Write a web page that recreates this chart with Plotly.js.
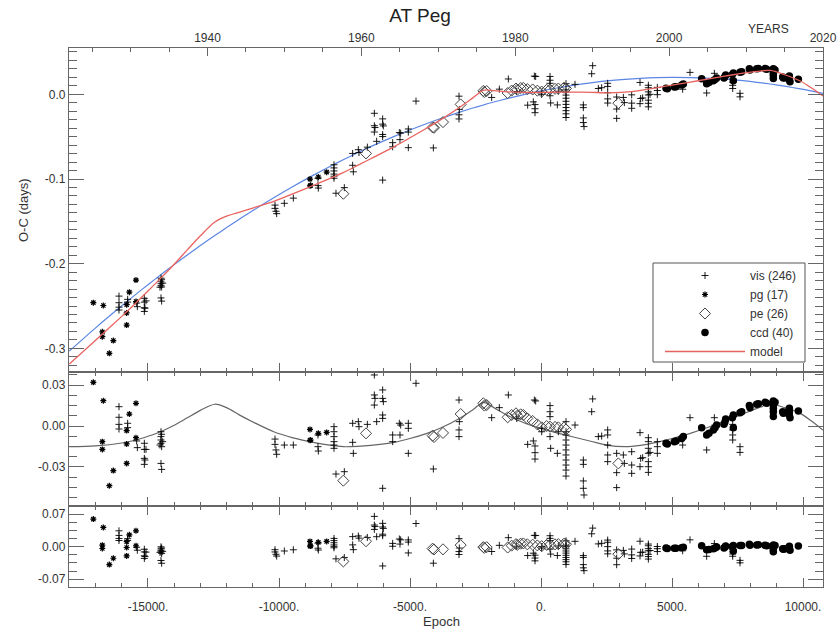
<!DOCTYPE html>
<html><head><meta charset="utf-8">
<script src="https://cdn.plot.ly/plotly-3.0.1.min.js"></script>
<style>html,body{margin:0;padding:0;background:#fff;}#chart{width:838px;height:632px;}</style>
</head><body><div id="chart"></div>
<script>
// ---------- data ----------
// visual timings: epoch, O-C (days), residual vs quadratic, residual vs full model
const visE = [-16107,-16107,-16107,-16107,-15776,-15776,-15433,-15407,-15140,-15140,-15076,-15140,-15115,-15140,-14504,-14479,-14504,-14504,-14542,-14479,-14504,-14479,-14440,-14504,
 -10153,-10153,-10115,-10089,-9796,-9453,
 -8512,-8512,-8499,-7901,-7901,-7901,-7901,-7901,-7901,-7825,-7507,-7188,-7188,-7163,-6972,-6947,-6628,-6361,-6361,-6336,-6361,-6272,-6043,-6043,-6018,-6043,-6043,-6043,-5662,-5662,-5407,-5382,-5356,-5064,-5064,-5064,-4771,-4109,-3130,-3130,-3130,-3117,
 -1883,-1590,-1247,-929,-509,-293,-229,-229,-229,-254,-204,26,26,344,344,344,344,369,624,662,
 954,954,954,954,954,954,954,954,954,954,954,
 1298,1616,1616,1616,1616,1641,1934,1972,2188,2316,2545,2545,2545,2545,2545,2888,2888,2888,3143,3181,3461,3461,3461,3779,3804,3779,3880,
 4097,4097,4097,4097,4097,4097,4097,4160,4440,4440,4440,5687,6323,6616,6641,7316,7316,7316,7316,7595,7595,5407];
const visOC = [-0.2383,-0.2461,-0.2513,-0.2547,-0.2421,-0.2453,-0.2465,-0.2508,-0.2409,-0.2454,-0.2439,-0.2520,-0.2526,-0.2564,-0.2171,-0.2184,-0.2207,-0.2232,-0.2278,-0.2275,-0.2404,-0.2442,-0.2229,-0.2256,
 -0.1308,-0.1347,-0.1381,-0.1409,-0.1287,-0.1226,
 -0.0992,-0.1078,-0.1107,-0.0832,-0.0869,-0.0905,-0.0942,-0.0967,-0.0991,-0.1168,-0.1102,-0.0698,-0.0838,-0.0915,-0.0654,-0.0687,-0.0624,-0.0224,-0.0371,-0.0392,-0.0445,-0.0555,-0.0290,-0.0352,-0.0373,-0.0474,-0.0499,-0.1013,-0.0571,-0.0620,-0.0452,-0.0535,-0.0458,-0.0409,-0.0446,-0.0630,-0.0080,-0.0633,-0.0022,-0.0291,-0.0242,-0.0180,
 -0.0037,0.0061,0.0181,0.0033,-0.0128,-0.0089,-0.0121,-0.0170,-0.0217,0.0215,0.0211,0.0025,0.0000,0.0211,0.0166,0.0130,-0.0017,-0.0102,-0.0125,0.0036,
 0.0126,0.0052,0.0028,-0.0009,-0.0046,-0.0082,-0.0119,-0.0156,-0.0193,-0.0230,-0.0274,
 0.0118,-0.0125,-0.0157,-0.0279,-0.0333,-0.0381,0.0243,0.0338,0.0069,0.0078,0.0130,0.0093,0.0019,-0.0054,-0.0103,-0.0032,-0.0174,-0.0284,-0.0037,-0.0098,-0.0006,-0.0104,-0.0165,0.0140,-0.0049,-0.0110,-0.0043,
 0.0107,0.0078,0.0029,-0.0008,-0.0069,-0.0106,-0.0148,0.0000,0.0082,0.0045,-0.0004,0.0259,0.0016,0.0248,0.0194,0.0184,0.0143,0.0106,0.0069,0.0012,-0.0030,0.0060];
const visRes1 = [0.0142,0.0064,0.0012,-0.0022,0.0020,-0.0012,-0.0110,-0.0159,-0.0127,-0.0172,-0.0172,-0.0238,-0.0250,-0.0282,-0.0042,-0.0061,-0.0078,-0.0103,-0.0140,-0.0152,-0.0275,-0.0319,-0.0115,-0.0127,
 -0.0096,-0.0135,-0.0176,-0.0208,-0.0140,-0.0140,
 -0.0066,-0.0152,-0.0184,-0.0005,-0.0042,-0.0078,-0.0115,-0.0140,-0.0164,-0.0353,-0.0336,0.0020,-0.0120,-0.0201,0.0032,-0.0005,0.0012,0.0375,0.0228,0.0203,0.0154,0.0032,0.0265,0.0203,0.0179,0.0081,0.0056,-0.0458,-0.0066,-0.0115,0.0020,-0.0066,0.0007,0.0020,-0.0017,-0.0201,0.0314,-0.0316,0.0191,-0.0078,-0.0029,0.0032,
 0.0061,0.0135,0.0228,0.0056,-0.0135,-0.0110,-0.0147,-0.0196,-0.0243,0.0191,0.0184,-0.0017,-0.0042,0.0150,0.0105,0.0069,-0.0078,-0.0164,-0.0201,-0.0042,
 0.0032,-0.0042,-0.0066,-0.0103,-0.0140,-0.0176,-0.0213,-0.0250,-0.0287,-0.0324,-0.0368,
 0.0007,-0.0250,-0.0282,-0.0404,-0.0458,-0.0507,0.0105,0.0199,-0.0078,-0.0074,-0.0029,-0.0066,-0.0140,-0.0213,-0.0262,-0.0201,-0.0343,-0.0453,-0.0213,-0.0275,-0.0189,-0.0287,-0.0348,-0.0049,-0.0238,-0.0299,-0.0233,
 -0.0086,-0.0115,-0.0164,-0.0201,-0.0262,-0.0299,-0.0341,-0.0194,-0.0115,-0.0152,-0.0201,0.0061,-0.0176,0.0061,0.0007,0.0012,-0.0029,-0.0066,-0.0103,-0.0152,-0.0194,-0.0140];
const visRes2 = [0.0342,0.0243,0.0177,0.0133,0.0173,0.0132,-0.0011,-0.0076,-0.0056,-0.0113,-0.0117,-0.0197,-0.0213,-0.0253,-0.0003,-0.0029,-0.0048,-0.0080,-0.0123,-0.0145,-0.0298,-0.0357,-0.0100,-0.0110,
 -0.0065,-0.0114,-0.0164,-0.0202,-0.0093,-0.0067,
 0.0076,-0.0033,-0.0072,0.0178,0.0131,0.0085,0.0038,0.0006,-0.0024,-0.0262,-0.0234,0.0217,0.0039,-0.0064,0.0231,0.0184,0.0199,0.0653,0.0466,0.0434,0.0372,0.0215,0.0503,0.0424,0.0394,0.0269,0.0237,-0.0415,0.0071,0.0009,0.0166,0.0056,0.0147,0.0146,0.0099,-0.0135,0.0499,-0.0356,0.0174,-0.0168,-0.0105,-0.0029,
 -0.0104,0.0029,0.0194,0.0010,-0.0191,-0.0141,-0.0183,-0.0245,-0.0305,0.0244,0.0240,0.0003,-0.0029,0.0236,0.0179,0.0133,-0.0053,-0.0160,-0.0191,0.0014,
 0.0126,0.0032,0.0001,-0.0046,-0.0093,-0.0138,-0.0185,-0.0232,-0.0279,-0.0326,-0.0382,
 0.0116,-0.0192,-0.0232,-0.0387,-0.0456,-0.0517,0.0278,0.0400,0.0060,0.0072,0.0142,0.0095,0.0001,-0.0091,-0.0154,-0.0069,-0.0249,-0.0389,-0.0079,-0.0156,-0.0052,-0.0177,-0.0254,0.0118,-0.0122,-0.0199,-0.0119,
 0.0057,0.0020,-0.0042,-0.0089,-0.0166,-0.0213,-0.0267,-0.0083,0.0004,-0.0043,-0.0105,0.0147,-0.0207,0.0067,-0.0004,-0.0060,-0.0112,-0.0159,-0.0206,-0.0295,-0.0348,-0.0089];

// photographic timings
const pgE = [-17086,-16705,-16743,-16743,-16323,-16475,-15814,-15712,-15814,-15814,-15458,-15458,-8817,-8792,-8499,-8181,-8817];
const pgOC = [-0.2460,-0.2494,-0.2805,-0.2862,-0.2908,-0.3059,-0.2484,-0.2336,-0.2582,-0.2725,-0.2194,-0.2447,-0.1001,-0.1075,-0.0977,-0.0919,-0.1081];
const pgRes1 = [0.0321,0.0186,-0.0115,-0.0172,-0.0328,-0.0439,-0.0034,0.0088,-0.0132,-0.0275,0.0167,-0.0086,-0.0025,-0.0103,-0.0054,-0.0047,-0.0105];
const pgRes2 = [0.0594,0.0414,0.0033,-0.0039,-0.0249,-0.0386,0.0107,0.0255,-0.0018,-0.0199,0.0342,0.0020,0.0114,0.0017,0.0093,0.0114,0.0013];

// photoelectric timings
const peE = [-7545,-6679,-4135,-4084,-3740,-3066,-2201,-2163,-2074,-1272,-1120,-954,-903,-776,-674,-522,-318,-140,26,216,344,535,662,878,954,2952];
const peOC = [-0.1174,-0.0698,-0.0391,-0.0395,-0.0328,-0.0119,0.0041,0.0027,0.0039,0.0015,0.0044,0.0068,0.0055,0.0074,0.0076,0.0062,0.0057,0.0043,0.0032,0.0053,0.0056,0.0065,0.0068,0.0078,0.0069,-0.0104];
const peRes1 = [-0.0402,-0.0054,-0.0071,-0.0081,-0.0051,0.0088,0.0167,0.0150,0.0154,0.0064,0.0081,0.0093,0.0076,0.0086,0.0081,0.0056,0.0037,0.0012,-0.0010,0.0000,-0.0005,-0.0007,-0.0010,-0.0012,-0.0025,-0.0275];
const peRes2 = [-0.0318,0.0117,-0.0042,-0.0060,-0.0057,0.0034,-0.0009,-0.0025,-0.0010,-0.0018,0.0022,0.0055,0.0038,0.0065,0.0070,0.0051,0.0043,0.0027,0.0011,0.0038,0.0039,0.0051,0.0055,0.0065,0.0053,-0.0161];

// CCD timings
const ccdE = [4771,4822,5089,5153,5369,5433,6132,6323,6412,6578,6641,6705,6985,7023,7048,7303,7341,7341,7595,7659,7952,7977,8232,8296,8550,8613,8868,8868,8868,8868,8868,8932,9224,9249,9313,9478,9478,9478,9504,9822];
const ccdOC = [0.0072,0.0067,0.0085,0.0090,0.0109,0.0122,0.0184,0.0126,0.0140,0.0159,0.0175,0.0192,0.0192,0.0211,0.0229,0.0233,0.0252,0.0159,0.0262,0.0267,0.0303,0.0287,0.0302,0.0304,0.0304,0.0295,0.0301,0.0271,0.0247,0.0222,0.0186,0.0288,0.0205,0.0192,0.0195,0.0217,0.0192,0.0168,0.0147,0.0178];
const ccdRes1 = [-0.0127,-0.0132,-0.0115,-0.0110,-0.0091,-0.0078,-0.0012,-0.0066,-0.0054,-0.0029,-0.0012,0.0007,0.0012,0.0032,0.0051,0.0061,0.0081,-0.0012,0.0098,0.0105,0.0150,0.0135,0.0159,0.0164,0.0174,0.0167,0.0184,0.0154,0.0130,0.0105,0.0069,0.0174,0.0105,0.0093,0.0100,0.0130,0.0105,0.0081,0.0061,0.0110];
const ccdRes2 = [-0.0030,-0.0041,-0.0036,-0.0033,-0.0024,-0.0013,0.0018,-0.0067,-0.0060,-0.0043,-0.0028,-0.0009,-0.0029,-0.0006,0.0015,0.0004,0.0025,-0.0093,0.0023,0.0025,0.0055,0.0033,0.0038,0.0039,0.0033,0.0019,0.0037,-0.0001,-0.0032,-0.0064,-0.0109,0.0028,-0.0042,-0.0056,-0.0044,0.0009,-0.0023,-0.0053,-0.0076,0.0015];

// fitted curves
const curveE = [-18000,-17000,-16000,-15500,-15000,-14500,-14000,-13500,-13000,-12450,-12000,-11500,-11000,-10200,-9500,-8700,-8000,-7550,-7000,-6500,-5600,-5000,-4350,-3850,-3100,-2600,-2200,-1800,-1300,-700,0,600,1200,1900,2500,3200,3800,4400,5000,5700,6300,6950,7600,8250,8750,9300,9900,10300,10760];
const quadFit = [-0.3032,-0.2758,-0.2497,-0.2371,-0.2248,-0.2128,-0.2011,-0.1897,-0.1786,-0.1668,-0.1574,-0.1472,-0.1373,-0.1221,-0.1094,-0.0957,-0.0843,-0.0773,-0.0690,-0.0618,-0.0497,-0.0421,-0.0344,-0.0288,-0.0210,-0.0162,-0.0126,-0.0091,-0.0051,-0.0006,0.0040,0.0075,0.0106,0.0136,0.0158,0.0177,0.0189,0.0197,0.0200,0.0198,0.0192,0.0180,0.0164,0.0142,0.0122,0.0096,0.0064,0.0040,0.0010];
const modelFit = [-0.3184,-0.2904,-0.2622,-0.2476,-0.2323,-0.2168,-0.2006,-0.1837,-0.1671,-0.1508,-0.1439,-0.1392,-0.1343,-0.1263,-0.1179,-0.1077,-0.0986,-0.0925,-0.0840,-0.0761,-0.0617,-0.0513,-0.0398,-0.0305,-0.0153,-0.0042,0.0048,0.0044,0.0029,0.0022,0.0022,0.0025,0.0027,0.0024,0.0018,0.0025,0.0047,0.0077,0.0108,0.0144,0.0177,0.0212,0.0244,0.0272,0.0282,0.0231,0.0157,0.0080,-0.0020];
const lttFit = [-0.0152,-0.0146,-0.0125,-0.0105,-0.0075,-0.0040,0.0005,0.0060,0.0115,0.0160,0.0135,0.0080,0.0030,-0.0042,-0.0085,-0.0120,-0.0143,-0.0152,-0.0150,-0.0143,-0.0120,-0.0092,-0.0054,-0.0017,0.0057,0.0120,0.0174,0.0135,0.0080,0.0028,-0.0018,-0.0050,-0.0079,-0.0112,-0.0140,-0.0152,-0.0142,-0.0120,-0.0092,-0.0054,-0.0015,0.0032,0.0080,0.0130,0.0160,0.0135,0.0093,0.0040,-0.0030];

// axis tick labels
const epochTicks = [-15000,-10000,-5000,0,5000,10000];
const epochLabels = ['-15000.','-10000.','-5000.','0.','5000.','10000.'];
const yearTicks = [1940,1960,1980,2000,2020];
const yearLabels = ['1940','1960','1980','2000','2020'];
const ocTicks = [0,-0.1,-0.2,-0.3];
const ocLabels = ['0.0','-0.1','-0.2','-0.3'];
const r1Ticks = [0.03,0,-0.03,-0.06];
const r1Labels = ['0.03','0.00','-0.03','-0.06'];
const r2Ticks = [0.07,0,-0.07];
const r2Labels = ['0.07','0.00','-0.07'];
const legendNames = ['vis (246)','pg (17)','pe (26)','ccd (40)','model'];

// ---------- styling ----------
const FONT = 'Liberation Sans, Arial, Helvetica, sans-serif';
const AX = '#666';
const TXT = '#333';
const BLUE = '#5b86e3';
const RED = '#e8625e';

const mk = {
  vis: {symbol:'cross-thin', size:5, color:'#000', line:{color:'#000', width:0.9}},
  pg:  {symbol:'asterisk-open', size:5, color:'#000', line:{color:'#000', width:1.2}},
  pe:  {symbol:'diamond-open', size:8.5, color:'#444', line:{color:'#444', width:1}},
  ccd: {symbol:'circle', size:7.5, color:'#000', line:{width:0}}
};
const series = [
  {key:'vis', E:visE, oc:visOC, r1:visRes1, r2:visRes2},
  {key:'pg', E:pgE, oc:pgOC, r1:pgRes1, r2:pgRes2},
  {key:'pe', E:peE, oc:peOC, r1:peRes1, r2:peRes2},
  {key:'ccd', E:ccdE, oc:ccdOC, r1:ccdRes1, r2:ccdRes2}
];

const traces = [];
// curves
traces.push({x:curveE, y:quadFit, xaxis:'x3', yaxis:'y', mode:'lines', line:{color:BLUE, width:1.2, shape:'spline', smoothing:0.8}, showlegend:false, hoverinfo:'skip'});
traces.push({x:curveE, y:lttFit, xaxis:'x2', yaxis:'y2', mode:'lines', line:{color:'#666', width:1.2, shape:'spline', smoothing:0.8}, showlegend:false, hoverinfo:'skip'});
// points, top panel (legend)
series.forEach((s, i) => {
  traces.push({x:s.E, y:s.oc, xaxis:'x3', yaxis:'y', mode:'markers', name:legendNames[i], marker:mk[s.key], showlegend:true, legendrank:i+1, hoverinfo:'skip'});
});
traces.push({x:curveE, y:modelFit, xaxis:'x3', yaxis:'y', mode:'lines', name:legendNames[4], line:{color:RED, width:1.3, shape:'spline', smoothing:0.8}, showlegend:true, legendrank:5, hoverinfo:'skip'});
series.forEach((s) => {
  traces.push({x:s.E, y:s.r1, xaxis:'x2', yaxis:'y2', mode:'markers', marker:mk[s.key], showlegend:false, hoverinfo:'skip'});
  traces.push({x:s.E, y:s.r2, xaxis:'x', yaxis:'y3', mode:'markers', marker:mk[s.key], showlegend:false, hoverinfo:'skip'});
});
// empty trace so the calendar-year axis on top is created (no visible marks)
traces.push({x:yearTicks, y:yearTicks.map(() => null), xaxis:'x4', yaxis:'y', mode:'markers', marker:{opacity:0}, showlegend:false, hoverinfo:'skip'});

const common = {showgrid:false, zeroline:false, showline:true, linecolor:AX, linewidth:1.2,
  ticks:'inside', tickcolor:AX, tickwidth:1, tickfont:{family:FONT, size:12, color:TXT}};
const xcommon = Object.assign({}, common, {tickmode:'array', tickvals:epochTicks, ticktext:epochLabels, ticklen:9,
  minor:{ticks:'inside', ticklen:4, tickmode:'linear', tick0:0, dtick:1000, tickcolor:AX}});

const PW = 754, PH = 539, L = 69, T = 48;
const px = v => (v - L) / PW;
const py = v => (T + PH - v) / PH;

const layout = {
  width:838, height:632,
  margin:{l:69, r:15, t:48, b:45},
  paper_bgcolor:'#fff', plot_bgcolor:'#fff',
  font:{family:FONT, size:12, color:TXT},
  hovermode:false,
  title:{text:'AT Peg', font:{family:FONT, size:19, color:'#222'}, x:420/838, xref:'container', xanchor:'center', y:1-15/632, yref:'container', yanchor:'middle'},
  xaxis: Object.assign({}, xcommon, {anchor:'y3', domain:[0,1], range:[-18015,10763], mirror:'ticks', ticklabelstandoff:8}),
  xaxis2: Object.assign({}, xcommon, {anchor:'y2', matches:'x', showticklabels:false, mirror:'ticks'}),
  xaxis3: Object.assign({}, xcommon, {anchor:'y', matches:'x', showticklabels:false, mirror:false}),
  xaxis4: Object.assign({}, common, {anchor:'y', overlaying:'x3', side:'top', range:[1922.0, 2020], tickmode:'array', tickvals:yearTicks, ticktext:yearLabels, ticklen:8,
    minor:{ticks:'inside', ticklen:4, tickmode:'linear', tick0:1920, dtick:5, tickcolor:AX}}),
  yaxis: Object.assign({}, common, {anchor:'x3', domain:[0.3989,1], range:[-0.3279,0.0547], tickmode:'array', tickvals:ocTicks, ticktext:ocLabels, ticklen:15, mirror:'ticks',
    minor:{ticks:'inside', ticklen:8, tickmode:'linear', tick0:0, dtick:0.01, tickcolor:AX}}),
  yaxis2: Object.assign({}, common, {anchor:'x2', domain:[0.1503,0.3989], range:[-0.0588,0.0397], tickmode:'array', tickvals:r1Ticks, ticktext:r1Labels, ticklen:15, mirror:'ticks',
    minor:{ticks:'inside', ticklen:8, tickmode:'linear', tick0:0, dtick:0.0075, tickcolor:AX}}),
  yaxis3: Object.assign({}, common, {anchor:'x', domain:[0,0.1503], range:[-0.0869,0.0877], tickmode:'array', tickvals:r2Ticks, ticktext:r2Labels, ticklen:15, mirror:'ticks',
    minor:{ticks:'inside', ticklen:8, tickmode:'linear', tick0:0, dtick:0.0175, tickcolor:AX}}),
  showlegend:true,
  legend:{x:px(660), xanchor:'left', y:py(261), yanchor:'top', bgcolor:'rgba(0,0,0,0)', borderwidth:0,
    font:{family:FONT, size:12, color:TXT}, itemwidth:80, tracegroupgap:0, traceorder:'normal'},
  shapes:[{type:'rect', xref:'paper', yref:'paper', x0:px(653), x1:px(805), y0:py(362), y1:py(263), line:{color:'#555', width:1}, fillcolor:'rgba(0,0,0,0)', layer:'below'}],
  annotations:[
    {text:'YEARS', xref:'paper', yref:'paper', x:px(768), y:py(29), showarrow:false, xanchor:'center', yanchor:'middle', font:{family:FONT, size:12, color:TXT}},
    {text:'O-C (days)', xref:'paper', yref:'paper', x:px(23), y:py(210), showarrow:false, textangle:-90, xanchor:'center', yanchor:'middle', font:{family:FONT, size:13, color:TXT}},
    {text:'Epoch', xref:'paper', yref:'paper', x:px(441), y:py(621), showarrow:false, xanchor:'center', yanchor:'middle', font:{family:FONT, size:13, color:TXT}}
  ]
};

Plotly.newPlot('chart', traces, layout, {staticPlot:true, displayModeBar:false});
</script>
</body></html>
